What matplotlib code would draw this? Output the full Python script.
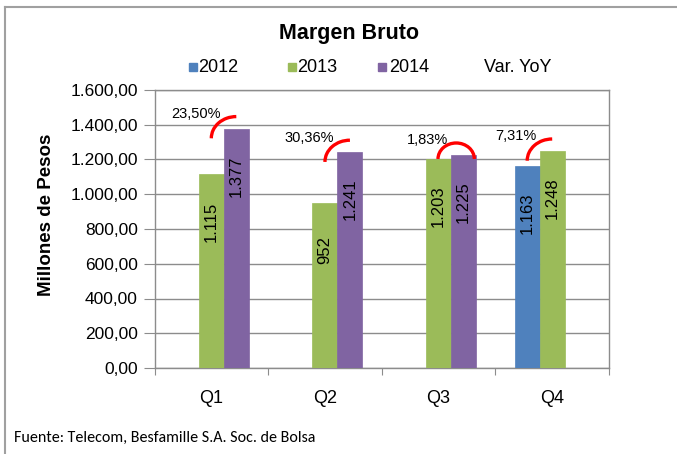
import matplotlib
matplotlib.use("Agg")
import matplotlib.pyplot as plt
import numpy as np
from matplotlib.patches import Arc, Rectangle
from matplotlib.lines import Line2D
from matplotlib.ticker import FuncFormatter, FixedLocator

# ---- data ----
categories = ["Q1", "Q2", "Q3", "Q4"]
series_names = ["2012", "2013", "2014"]
v2012 = [np.nan, np.nan, np.nan, 1163]
v2013 = [1115, 952, 1203, 1248]
v2014 = [1377, 1241, 1225, np.nan]
labels2012 = ["", "", "", "1.163"]
labels2013 = ["1.115", "952", "1.203", "1.248"]
labels2014 = ["1.377", "1.241", "1.225", ""]
yoy_labels = ["23,50%", "30,36%", "1,83%", "7,31%"]
title = "Margen Bruto"
ylabel = "Millones de Pesos"
source = "Fuente: Telecom, Besfamille S.A. Soc. de Bolsa"

colors = ["#4F81BD", "#9BBB59", "#8064A2"]
font = ["Liberation Sans", "DejaVu Sans"]
plt.rcParams["font.family"] = font

W, H = 677, 454
fig = plt.figure(figsize=(W / 100, H / 100), dpi=100)
L, R, T, B = 154.5, 609, 90, 368
ax = fig.add_axes([L / W, 1 - B / H, (R - L) / W, (B - T) / H])

x = np.arange(len(categories))
bw = 0.22
all_vals = [v2012, v2013, v2014]
all_labels = [labels2012, labels2013, labels2014]
for k, (vals, labs) in enumerate(zip(all_vals, all_labels)):
    xs = x + (k - 1) * bw
    ax.bar(xs, vals, width=bw, color=colors[k], edgecolor=colors[k], linewidth=0.5, zorder=3)
    for xi, v, lab in zip(xs, vals, labs):
        if lab:
            ax.annotate(lab, (xi, v), xytext=(0, -34), textcoords="offset points",
                        rotation=90, ha="center", va="center", fontsize=12, zorder=4)

# YoY arcs and labels
for i in range(len(categories)):
    present = [(k, all_vals[k][i]) for k in range(3) if not np.isnan(all_vals[k][i])]
    xl = x[i] + (present[0][0] - 1) * bw
    xr = x[i] + (present[-1][0] - 1) * bw
    top = max(v for _, v in present) + 70
    if i == 2:
        ry = 92
        cx = (xl + xr) / 2 + 0.045
        arc = Arc((cx, top - ry), 0.32, 2 * ry, theta1=25, theta2=178,
                  color="red", lw=2.4, zorder=5)
    else:
        ry = 125
        arc = Arc((xr, top - ry), 2 * (xr - xl), 2 * ry, theta1=90, theta2=180,
                  color="red", lw=2.4, zorder=5)
    ax.add_patch(arc)
    ax.text(xl + 0.08, top + 15, yoy_labels[i], ha="right", va="center",
            fontsize=10.5, zorder=5)

ax.set_xlim(-0.5, 3.5)
ax.set_ylim(0, 1600)
ax.yaxis.set_major_locator(FixedLocator(np.arange(0, 1601, 200)))
ax.yaxis.set_major_formatter(FuncFormatter(
    lambda v, p: f"{v:,.2f}".replace(",", "X").replace(".", ",").replace("X", ".")))
ax.grid(axis="y", color="#8c8c8c", linewidth=1.0, zorder=0)
ax.set_axisbelow(True)
ax.set_xticks(np.arange(-0.5, 3.6, 1.0))
ax.set_xticklabels([])
ax.set_xticks(x, minor=True)
ax.set_xticklabels(categories, minor=True)
ax.tick_params(axis="x", which="minor", length=0, pad=16, labelsize=13)
ax.tick_params(axis="x", which="major", length=5, color="#8c8c8c", direction="out")
ax.tick_params(axis="y", length=8, color="#8c8c8c", pad=4, labelsize=12.5)
for s in ax.spines.values():
    s.set_color("#8c8c8c")
    s.set_linewidth(1.0)

fig.text(47 / W, 1 - 215 / H, ylabel, rotation=90, ha="center", va="center",
         fontsize=13.5, fontweight="bold")
fig.text(349 / W, 1 - 33 / H, title, ha="center", va="center", fontsize=15.5,
         fontweight="bold")

# legend
leg_y = 67
sq = 8
for k, (sx, tx) in enumerate([(189, 198), (288, 297), (378, 389)]):
    fig.add_artist(Rectangle((sx / W, 1 - (leg_y + sq / 2) / H), sq / W, sq / H,
                             transform=fig.transFigure, color=colors[k]))
    fig.text(tx / W, 1 - leg_y / H, series_names[k], ha="left", va="center", fontsize=13)
fig.text(484 / W, 1 - leg_y / H, "Var. YoY", ha="left", va="center", fontsize=13)

fig.text(14 / W, 1 - 438 / H, source, ha="left", va="center", fontsize=11.5,
         family=["Carlito", "Lato", "DejaVu Sans"])

# outer frame
fig.add_artist(Line2D([5 / W, 1.0], [1 - 7 / H, 1 - 7 / H], transform=fig.transFigure,
                      color="#a0a0a0", lw=1.5))
fig.add_artist(Line2D([5 / W, 5 / W], [1 - 7 / H, 0], transform=fig.transFigure,
                      color="#a0a0a0", lw=1.5))

fig.savefig("out.png", dpi=100)
